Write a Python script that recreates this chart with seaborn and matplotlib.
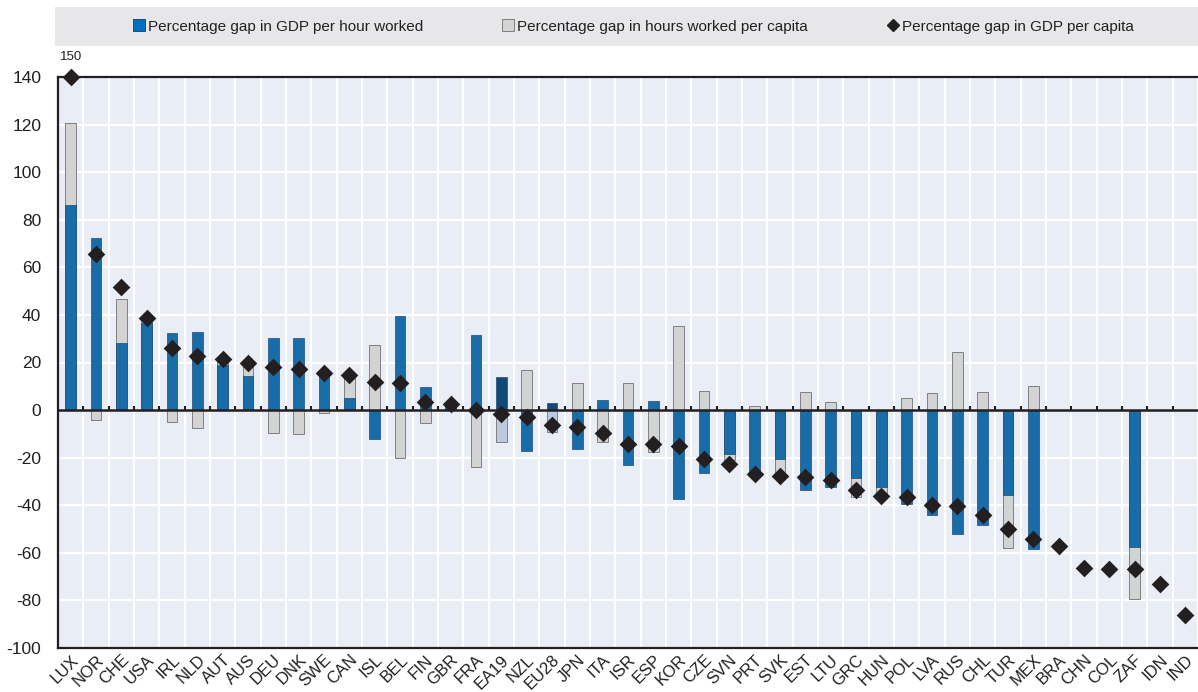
import numpy as np
import pandas as pd
import matplotlib
matplotlib.use("Agg")
import matplotlib.pyplot as plt
from matplotlib.lines import Line2D
from matplotlib.patches import Rectangle
import seaborn as sns

# ---------------- data ----------------
countries = ["LUX", "NOR", "CHE", "USA", "IRL", "NLD", "AUT", "AUS", "DEU", "DNK",
             "SWE", "CAN", "ISL", "BEL", "FIN", "GBR", "FRA", "EA19", "NZL", "EU28",
             "JPN", "ITA", "ISR", "ESP", "KOR", "CZE", "SVN", "PRT", "SVK", "EST",
             "LTU", "GRC", "HUN", "POL", "LVA", "RUS", "CHL", "TUR", "MEX", "BRA",
             "CHN", "COL", "ZAF", "IDN", "IND"]

gdp_per_hour = [86, 72.5, 28, 36.5, 32.5, 33, 19, 14.5, 30.5, 30.5,
                16.5, 5, -12, 39.5, 9.5, 2, 31.5, 13.7, -17, 2.8,
                -16.5, 4.2, -23, 3.8, -37.3, -26.6, -18.5, -27, -20.6, -33.6,
                -32.2, -28.4, -32.4, -39.6, -44.3, -52.2, -48.1, -35.9, -58.3, np.nan,
                np.nan, np.nan, -57.5, np.nan, np.nan]

hours_per_capita = [34.5, -4.2, 18.5, 1, -5.2, -7.7, 1.5, 4.5, -9.5, -10.2,
                    -1.4, 9.5, 27.3, -20.3, -5.6, 0.5, -23.8, -13.6, 16.7, -9.1,
                    11.2, -13.6, 11.2, -17.8, 35.4, 8.1, -2.5, 1.8, -8, 7.4,
                    3.6, -8, -4.5, 4.9, 7, 24.5, 7.4, -22.1, 10.2, np.nan,
                    np.nan, np.nan, -21.9, np.nan, np.nan]

gdp_per_capita = [150, 65.5, 51.8, 38.5, 26, 22.9, 21.4, 19.9, 18.2, 17.1,
                  15.4, 14.6, 11.9, 11.3, 3.5, 2.5, 0.2, -1.7, -3.1, -6.3,
                  -7, -9.6, -14.1, -14.3, -15, -20.6, -22.7, -26.8, -27.8, -28.3,
                  -29.5, -33.8, -36.2, -36.5, -40.1, -40.2, -44, -50.1, -54, -57.2,
                  -66.3, -66.6, -67, -73, -86]

aggregates = ["EA19", "EU28"]

legend_labels = ["Percentage gap in GDP per hour worked",
                 "Percentage gap in hours worked per capita",
                 "Percentage gap in GDP per capita"]

y_ticks = list(range(-100, 141, 20))
Y_MIN, Y_MAX = -100, 140

# ---------------- styles ----------------
BLUE = "#0070BF"
BLUE_EDGE = "#1F4A73"
DARK_BLUE = "#004C89"
GRAY = "#D3D3D3"
GRAY_EDGE = "#808080"
LIGHT_BLUE = "#B5C8E7"
DIAMOND = "#231F20"
BG = "#E9EDF5"
LEGEND_BG = "#E7E7E9"
TXT = "#231F20"

sns.set_style("white")
plt.rcParams["font.family"] = ["Liberation Sans", "DejaVu Sans"]
plt.rcParams["axes.unicode_minus"] = False

df = pd.DataFrame({
    "country": countries,
    "prod": gdp_per_hour,
    "hours": hours_per_capita,
    "gdp": gdp_per_capita,
})
df["grp"] = np.where(df["country"].isin(aggregates), "agg", "main")
same_sign = np.sign(df["prod"]) == np.sign(df["hours"])
# extent of the grey (hours) segment measured from zero: stacked when signs agree
df["hours_extent"] = np.where(same_sign, df["prod"] + df["hours"], df["hours"])
df["gdp_shown"] = df["gdp"].clip(upper=Y_MAX)

fig = plt.figure(figsize=(11.98, 6.92), dpi=100)
ax = fig.add_axes([58 / 1198, 1 - 648 / 692, 1 - 58 / 1198, (648 - 77) / 692])
ax.set_facecolor(BG)

# grey (hours) bars first, then blue (productivity) on top
sns.barplot(data=df, x="country", y="hours_extent", hue="grp", order=countries,
            hue_order=["main", "agg"], palette={"main": GRAY, "agg": LIGHT_BLUE},
            dodge=False, width=0.42, edgecolor=GRAY_EDGE, linewidth=0.7,
            errorbar=None, legend=False, ax=ax, zorder=3)
sns.barplot(data=df, x="country", y="prod", hue="grp", order=countries,
            hue_order=["main", "agg"], palette={"main": BLUE, "agg": DARK_BLUE},
            dodge=False, width=0.42, edgecolor=BLUE_EDGE, linewidth=0.5,
            errorbar=None, legend=False, ax=ax, zorder=4)
sns.stripplot(data=df, x="country", y="gdp_shown", order=countries, jitter=False,
              marker="D", size=9, color=DIAMOND, linewidth=0, ax=ax, zorder=6,
              clip_on=False)

# clipped value labels
for i, (v, shown) in enumerate(zip(df["gdp"], df["gdp_shown"])):
    if v > Y_MAX:
        ax.annotate(f"{v:g}", (i, shown), xytext=(0, 10), textcoords="offset points",
                    ha="center", va="bottom", fontsize=9.5, color=TXT,
                    annotation_clip=False)

n = len(countries)
ax.set_xlim(-0.5, n - 0.5)
ax.set_ylim(Y_MIN, Y_MAX)
ax.set_yticks(y_ticks)
ax.set_xticks(np.arange(n))
ax.set_xticks(np.arange(-0.5, n, 1.0), minor=True)
ax.set_xlabel("")
ax.set_ylabel("")

ax.grid(True, which="major", axis="y", color="white", linewidth=1.6, zorder=0)
ax.grid(True, which="minor", axis="x", color="white", linewidth=1.6, zorder=0)
ax.grid(False, which="major", axis="x")
ax.set_axisbelow(True)

# zero line with small category separators
ax.axhline(0, color=TXT, linewidth=1.8, zorder=5)
ax.vlines(np.arange(0.5, n - 0.5, 1.0), 0, 1.8, color=TXT, linewidth=1.5, zorder=5)

for side in ["left", "top", "bottom"]:
    ax.spines[side].set_visible(True)
    ax.spines[side].set_color(TXT)
    ax.spines[side].set_linewidth(1.6)
ax.spines["right"].set_visible(False)

ax.tick_params(axis="y", which="major", direction="in", length=4, width=1.2,
               color=TXT, labelsize=12.5, labelcolor=TXT, pad=12)
ax.tick_params(axis="x", which="both", length=0, labelsize=12, labelcolor=TXT, pad=3)
for lab in ax.get_xticklabels():
    lab.set_rotation(45)
    lab.set_ha("right")
    lab.set_va("top")
    lab.set_rotation_mode("anchor")

# legend band
fig.patches.append(Rectangle((55 / 1198, 1 - 46 / 692), 1 - 55 / 1198, 39 / 692,
                             transform=fig.transFigure, facecolor=LEGEND_BG,
                             edgecolor="none", zorder=0))
handles = [
    Line2D([], [], linestyle="none", marker="s", markersize=8,
           markerfacecolor=BLUE, markeredgecolor=BLUE_EDGE, markeredgewidth=0.7),
    Line2D([], [], linestyle="none", marker="s", markersize=8,
           markerfacecolor=GRAY, markeredgecolor=GRAY_EDGE, markeredgewidth=0.7),
    Line2D([], [], linestyle="none", marker="D", markersize=6,
           markerfacecolor=DIAMOND, markeredgecolor=DIAMOND),
]
fig.legend(handles, legend_labels, loc="center", ncol=3,
           bbox_to_anchor=(633.5 / 1198, 1 - 26.5 / 692),
           frameon=False, fontsize=11, handlelength=0.7, handletextpad=0.25,
           columnspacing=5.2, labelcolor=TXT)

fig.savefig("out.png", dpi=100)
